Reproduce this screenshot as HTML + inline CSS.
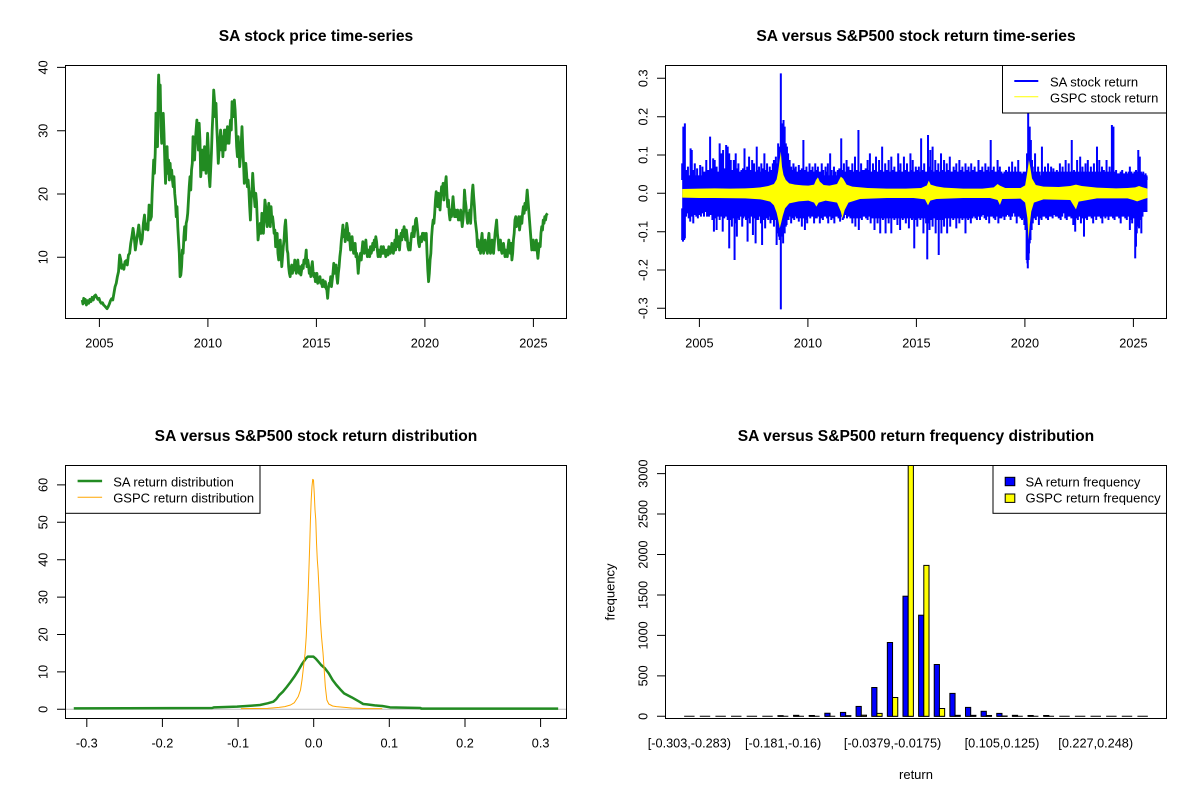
<!DOCTYPE html>
<html><head><meta charset="utf-8"><style>
html,body{margin:0;padding:0;background:#fff;}
svg{display:block;font-family:"Liberation Sans",Arial,sans-serif;}
.t{font-weight:bold;font-size:15.6px;text-anchor:middle;}
.n{font-size:12.7px;text-anchor:middle;}
.l{font-size:13px;}
.ax{stroke:#000;stroke-width:1;fill:none;}
</style></head><body>
<svg width="1200" height="800" viewBox="0 0 1200 800" xmlns="http://www.w3.org/2000/svg">
<rect x="0" y="0" width="1200" height="800" fill="#fff"/>

<!-- ================= TOP LEFT ================= -->
<text class="t" x="316" y="41">SA stock price time-series</text>
<g transform="matrix(0.3823 0 0 0.33333 0 20)">
<polyline fill="none" stroke="#228B22" stroke-width="2.8" vector-effect="non-scaling-stroke" stroke-linejoin="round" points="215,840 217,852 219,835 221,848 223,838 226,855 229,842 232,850 235,838 238,845 241,832 244,840 247,828 250,825 253,832 256,838 259,835 262,845 265,850 268,848 271,855 274,858 277,862 280,866 283,860 286,852 289,842 292,836 295,840 298,820 301,800 304,790 307,770 310,755 313,705 316,720 318,745 321,735 324,748 327,725 330,722 333,735 336,705 339,700 342,670 345,650 348,625 351,650 354,690 357,665 360,640 363,615 366,648 369,672 372,658 375,610 378,585 381,628 384,612 387,630 390,555 393,600 396,590 398,520 400,470 402,420 404,460 406,400 408,280 410,320 412,380 414,200 415,165 417,230 419,195 421,320 423,370 425,310 427,280 429,340 431,420 433,490 435,430 437,380 439,460 441,420 443,480 445,430 447,470 449,450 451,480 453,500 455,470 457,520 459,545 461,590 463,560 465,620 467,660 469,700 471,770 473,765 475,740 477,690 479,700 481,650 483,620 485,660 487,610 489,600 491,580 493,540 495,500 497,470 499,510 501,450 503,430 505,350 507,390 509,420 511,360 513,330 515,300 517,350 519,390 521,310 523,360 525,470 527,440 529,390 531,420 533,450 535,380 537,410 539,460 541,400 543,340 545,390 547,470 549,500 551,450 553,400 555,330 557,280 559,210 561,240 563,290 565,250 567,320 569,370 571,430 573,390 575,360 577,330 579,390 581,350 583,410 585,360 587,330 589,390 591,330 593,370 595,320 597,350 599,370 601,330 603,300 605,330 607,245 609,260 611,290 613,240 615,270 617,320 619,380 621,410 623,350 625,390 627,440 629,410 631,370 633,320 635,380 637,430 639,490 641,470 643,430 645,460 647,500 649,480 651,510 653,560 655,600 657,540 659,510 661,460 663,500 665,530 667,560 669,520 671,545 673,600 675,660 677,640 679,620 681,610 683,640 685,580 687,620 689,640 691,590 693,540 695,560 697,600 699,620 701,580 703,550 705,600 707,620 709,560 711,600 713,590 715,610 717,640 719,630 721,680 723,650 725,640 727,700 729,720 731,690 733,660 735,700 737,740 739,710 741,680 743,660 745,620 747,600 749,640 751,690 753,700 755,740 757,760 759,770 761,745 763,735 765,760 767,740 769,750 771,720 773,745 775,760 777,735 779,720 781,750 783,760 785,740 787,765 789,750 791,735 793,745 795,720 797,730 799,715 801,690 803,740 805,720 807,735 809,760 811,745 813,770 815,740 817,725 819,755 821,770 823,760 825,785 827,770 829,760 831,790 833,775 835,785 837,770 839,790 841,785 843,800 845,780 847,790 849,800 851,785 853,805 855,810 857,835 859,805 861,790 863,795 865,770 867,800 869,780 871,760 873,730 875,760 877,745 879,735 881,770 883,790 885,760 887,740 889,710 891,690 893,660 895,640 897,615 899,650 901,630 903,665 905,640 907,610 909,625 911,660 913,640 915,660 917,690 919,670 921,650 923,680 925,700 927,690 929,670 931,710 933,700 935,725 937,760 939,730 941,710 943,700 945,720 947,690 949,665 951,690 953,700 955,680 957,660 959,690 961,710 963,690 965,700 967,710 969,680 971,700 973,690 975,670 977,690 979,660 981,680 983,650 985,665 987,690 989,710 991,690 993,700 995,710 997,680 999,690 1001,700 1003,680 1005,700 1007,690 1009,710 1011,700 1013,690 1015,705 1017,680 1019,690 1021,700 1023,690 1025,670 1027,690 1029,700 1031,680 1033,660 1035,690 1037,630 1039,660 1041,680 1043,650 1045,690 1047,660 1049,640 1051,660 1053,630 1055,650 1057,620 1059,640 1061,660 1063,630 1065,650 1067,680 1069,690 1071,670 1073,690 1075,660 1077,640 1079,650 1081,620 1083,650 1085,630 1087,600 1089,595 1091,615 1093,640 1095,670 1097,680 1099,660 1101,650 1103,665 1105,640 1107,650 1109,640 1111,660 1113,650 1115,640 1117,700 1119,750 1121,785 1123,760 1125,720 1127,700 1129,650 1131,620 1133,600 1135,610 1137,580 1139,540 1141,515 1143,540 1145,560 1147,520 1149,540 1151,570 1153,530 1155,500 1157,520 1159,490 1161,540 1163,510 1165,490 1167,470 1169,520 1171,560 1173,540 1175,580 1177,600 1179,570 1181,590 1183,560 1185,530 1187,560 1189,590 1191,570 1193,590 1195,580 1197,570 1199,600 1201,580 1203,600 1205,570 1207,590 1209,620 1211,600 1213,570 1215,510 1217,540 1219,560 1221,590 1223,610 1225,580 1227,600 1229,570 1231,610 1233,560 1235,520 1237,495 1239,530 1241,560 1243,600 1245,620 1247,640 1249,680 1251,660 1253,690 1255,670 1257,700 1259,660 1261,640 1263,680 1265,700 1267,690 1269,660 1271,690 1273,670 1275,700 1277,660 1279,640 1281,680 1283,700 1285,690 1287,660 1289,690 1291,700 1293,670 1295,640 1297,620 1299,600 1301,640 1303,660 1305,690 1307,680 1309,660 1311,690 1313,700 1315,680 1317,670 1319,690 1321,710 1323,690 1325,700 1327,710 1329,680 1331,660 1333,690 1335,700 1337,670 1339,720 1341,700 1343,660 1345,640 1347,600 1349,590 1351,620 1353,600 1355,610 1357,590 1359,630 1361,610 1363,590 1365,610 1367,580 1369,560 1371,580 1373,550 1375,570 1377,540 1379,510 1381,540 1383,570 1385,600 1387,630 1389,660 1391,690 1393,680 1395,660 1397,690 1399,670 1401,690 1403,660 1405,690 1407,715 1409,690 1411,670 1413,680 1415,640 1417,620 1419,630 1421,600 1423,610 1425,590 1427,600 1429,585 1432,580"/>
</g>
<rect class="ax" x="65.5" y="65.5" width="501" height="253"/>
<path class="ax" d="M99.4 318.5V327M207.9 318.5V327M316.4 318.5V327M424.9 318.5V327M533.4 318.5V327M57 257.2H65.5M57 194H65.5M57 130.7H65.5M57 67.4H65.5"/>
<text class="n" x="99.4" y="347.7">2005</text>
<text class="n" x="207.9" y="347.7">2010</text>
<text class="n" x="316.4" y="347.7">2015</text>
<text class="n" x="424.9" y="347.7">2020</text>
<text class="n" x="533.4" y="347.7">2025</text>
<text class="n" transform="translate(47.5 257.2) rotate(-90)">10</text>
<text class="n" transform="translate(47.5 194) rotate(-90)">20</text>
<text class="n" transform="translate(47.5 130.7) rotate(-90)">30</text>
<text class="n" transform="translate(47.5 67.4) rotate(-90)">40</text>

<!-- ================= TOP RIGHT ================= -->
<text class="t" x="916" y="41">SA versus S&amp;P500 stock return time-series</text>
<g transform="matrix(0.3823 0 0 0.33333 600 20)">
<rect x="215" y="466" width="1217" height="110" fill="#0000FF"/>
<path fill="none" stroke="#0000FF" stroke-width="2" vector-effect="non-scaling-stroke" d="M215 480V430M218 480V320M222 480V310M226 480V450M230 480V440M237 480V385M240 480V390M244 480V450M248 480V430M254 480V445M262 480V435M268 480V440M273 480V455M278 480V420M283 480V450M288 480V350M292 480V445M296 480V415M300 480V420M305 480V440M309 480V455M313 480V370M318 480V400M322 480V390M326 480V445M330 480V375M334 480V380M338 480V400M342 480V420M346 480V450M350 480V420M355 480V400M358 480V445M362 480V430M366 480V455M370 480V450M374 480V445M378 480V385M381 480V450M385 480V440M390 480V410M394 480V450M398 480V420M403 480V430M406 480V455M410 480V380M413 480V450M416 480V440M419 480V455M422 480V430M426 480V445M430 480V400M434 480V450M437 480V430M441 480V455M444 480V440M448 480V450M452 480V430M455 480V420M458 480V440M460 480V410M463 480V430M466 480V370M468 480V400M470 480V380M473 480V160M476 480V310M478 480V340M480 480V300M483 480V320M486 480V370M489 480V380M492 480V400M494 480V430M496 480V420M498 480V445M500 480V440M503 480V450M506 480V430M509 480V445M512 480V440M516 480V455M520 480V435M524 480V450M528 480V445M532 480V360M536 480V450M540 480V440M544 480V455M548 480V430M552 480V450M556 480V440M560 480V455M563 480V430M566 480V450M570 480V440M575 480V455M580 480V430M584 480V450M590 480V440M593 480V455M596 480V430M602 480V400M606 480V450M612 480V440M616 480V455M622 480V450M626 480V445M631 480V355M634 480V450M638 480V430M642 480V455M645 480V420M650 480V440M655 480V450M660 480V430M664 480V455M667 480V410M672 480V450M676 480V330M680 480V455M683 480V430M687 480V450M690 480V450M695 480V445M700 480V420M703 480V450M706 480V400M710 480V455M714 480V430M718 480V450M722 480V410M726 480V455M730 480V420M734 480V450M738 480V380M742 480V455M746 480V430M750 480V450M755 480V420M758 480V455M762 480V410M766 480V450M770 480V440M775 480V455M780 480V400M783 480V450M786 480V430M790 480V455M795 480V410M799 480V450M803 480V430M808 480V455M812 480V400M815 480V450M818 480V420M822 480V455M826 480V440M830 480V450M834 480V440M837 480V455M840 480V355M844 480V450M848 480V430M853 480V455M858 480V345M861 480V440M864 480V390M867 480V450M870 480V380M874 480V455M877 480V420M881 480V450M885 480V430M889 480V455M892 480V400M896 480V450M900 480V420M903 480V455M907 480V430M911 480V450M915 480V410M920 480V455M925 480V440M928 480V450M932 480V430M936 480V455M940 480V420M944 480V450M948 480V440M952 480V455M956 480V430M960 480V450M964 480V440M968 480V455M971 480V430M975 480V450M980 480V440M985 480V455M990 480V420M995 480V450M1000 480V440M1004 480V455M1008 480V430M1012 480V450M1016 480V440M1019 480V455M1022 480V360M1026 480V450M1030 480V440M1035 480V455M1040 480V420M1043 480V450M1046 480V440M1050 480V455M1054 480V460M1058 480V455M1062 480V450M1066 480V455M1070 480V440M1074 480V455M1078 480V425M1082 480V455M1086 480V440M1090 480V455M1094 480V420M1097 480V455M1100 480V455M1104 480V460M1108 480V455M1111 480V455M1114 480V455M1117 480V400M1120 480V280M1122 480V330M1124 480V320M1127 480V360M1130 480V420M1132 480V440M1135 480V455M1138 480V400M1142 480V455M1146 480V440M1150 480V455M1156 480V380M1160 480V455M1164 480V440M1168 480V455M1172 480V430M1176 480V455M1180 480V440M1183 480V455M1186 480V445M1190 480V455M1195 480V450M1199 480V455M1203 480V430M1207 480V455M1210 480V440M1214 480V455M1218 480V420M1222 480V455M1226 480V430M1230 480V455M1234 480V360M1237 480V455M1240 480V450M1244 480V455M1248 480V420M1252 480V455M1256 480V410M1259 480V455M1262 480V440M1266 480V455M1270 480V430M1273 480V455M1276 480V420M1280 480V455M1284 480V440M1288 480V455M1292 480V430M1296 480V455M1300 480V380M1303 480V455M1306 480V420M1310 480V455M1313 480V440M1318 480V450M1321 480V455M1325 480V420M1329 480V455M1333 480V440M1336 480V455M1339 480V315M1341 480V330M1343 480V320M1346 480V455M1350 480V450M1354 480V460M1358 480V460M1362 480V455M1366 480V450M1369 480V460M1372 480V460M1376 480V455M1380 480V460M1383 480V455M1386 480V440M1390 480V455M1394 480V460M1398 480V455M1402 480V450M1405 480V455M1408 480V390M1410 480V430M1412 480V410M1415 480V455M1418 480V460M1421 480V455M1424 480V465M1427 480V460M1430 480V470
M215 565V660M217 565V665M220 565V660M222 565V655M225 565V590M228 565V580M232 565V595M236 565V605M240 565V590M244 565V610M248 565V585M252 565V590M256 565V595M260 565V585M264 565V590M268 565V580M272 565V590M276 565V575M280 565V590M285 565V590M290 565V585M294 565V600M298 565V635M302 565V595M305 565V630M309 565V590M313 565V600M317 565V590M321 565V635M325 565V595M330 565V590M334 565V600M338 565V685M341 565V600M345 565V620M349 565V595M352 565V720M355 565V610M358 565V650M361 565V595M364 565V600M368 565V590M372 565V620M375 565V595M378 565V590M382 565V600M386 565V665M389 565V595M392 565V610M396 565V590M400 565V645M403 565V595M407 565V670M410 565V600M414 565V600M418 565V590M421 565V610M424 565V675M428 565V600M432 565V625M436 565V595M440 565V600M443 565V590M446 565V610M450 565V600M455 565V620M458 565V600M462 565V675M464 565V620M466 565V640M468 565V650M470 565V660M473 565V868M476 565V650M478 565V640M479 565V670M481 565V630M483 565V640M486 565V620M488 565V615M490 565V600M493 565V600M496 565V590M500 565V610M504 565V595M508 565V600M511 565V590M515 565V595M518 565V590M520 565V605M524 565V595M528 565V620M532 565V595M536 565V630M539 565V600M542 565V610M546 565V590M550 565V595M555 565V590M560 565V610M563 565V595M567 565V595M571 565V590M575 565V610M579 565V595M583 565V600M587 565V590M590 565V590M594 565V595M597 565V610M601 565V590M605 565V600M609 565V595M613 565V610M616 565V590M620 565V590M624 565V595M628 565V605M632 565V590M635 565V600M638 565V595M642 565V585M646 565V595M650 565V590M655 565V595M660 565V610M664 565V595M668 565V620M672 565V595M677 565V630M681 565V595M685 565V600M688 565V590M692 565V590M696 565V595M700 565V600M704 565V590M708 565V610M713 565V595M718 565V630M722 565V595M726 565V610M729 565V595M733 565V640M736 565V595M740 565V600M743 565V595M747 565V640M751 565V595M755 565V610M758 565V595M762 565V640M766 565V595M770 565V600M774 565V595M778 565V615M781 565V595M785 565V630M788 565V595M792 565V600M796 565V595M800 565V610M804 565V595M808 565V625M812 565V595M816 565V600M819 565V595M822 565V685M826 565V600M830 565V620M834 565V595M838 565V600M842 565V595M846 565V640M850 565V595M853 565V610M856 565V718M859 565V610M862 565V630M866 565V600M870 565V620M874 565V595M878 565V640M882 565V600M886 565V705M889 565V600M893 565V640M896 565V600M900 565V620M904 565V595M908 565V640M912 565V595M916 565V620M920 565V595M924 565V600M928 565V595M932 565V625M936 565V595M940 565V610M944 565V595M948 565V600M952 565V595M956 565V640M960 565V595M963 565V600M967 565V595M970 565V610M974 565V595M978 565V590M982 565V595M986 565V600M990 565V590M994 565V600M998 565V590M1002 565V585M1006 565V595M1010 565V600M1014 565V590M1018 565V610M1022 565V590M1026 565V590M1030 565V595M1034 565V600M1038 565V590M1042 565V610M1046 565V595M1050 565V595M1054 565V590M1058 565V600M1062 565V590M1066 565V585M1070 565V590M1074 565V600M1078 565V590M1082 565V580M1086 565V590M1090 565V610M1093 565V590M1096 565V590M1100 565V595M1104 565V600M1107 565V595M1110 565V615M1113 565V630M1116 565V720M1118 565V730M1119 565V745M1121 565V720M1122 565V700M1124 565V670M1126 565V660M1129 565V630M1132 565V610M1136 565V595M1140 565V600M1144 565V590M1148 565V615M1151 565V595M1155 565V600M1159 565V590M1163 565V590M1167 565V595M1172 565V600M1176 565V590M1180 565V590M1184 565V595M1188 565V585M1192 565V590M1196 565V590M1200 565V595M1205 565V600M1209 565V590M1213 565V580M1217 565V595M1221 565V600M1225 565V590M1229 565V590M1233 565V595M1238 565V615M1240 565V600M1243 565V635M1246 565V595M1250 565V600M1254 565V590M1258 565V610M1262 565V595M1266 565V650M1270 565V595M1274 565V600M1278 565V590M1282 565V590M1286 565V595M1290 565V610M1294 565V590M1298 565V600M1302 565V590M1306 565V590M1310 565V595M1314 565V610M1318 565V590M1322 565V595M1326 565V590M1330 565V600M1334 565V590M1338 565V590M1342 565V595M1346 565V600M1350 565V590M1354 565V590M1358 565V595M1362 565V610M1366 565V590M1370 565V590M1374 565V595M1378 565V600M1382 565V590M1386 565V630M1389 565V600M1392 565V610M1396 565V595M1400 565V715M1402 565V680M1404 565V640M1407 565V620M1410 565V625M1413 565V600M1416 565V640M1419 565V590M1422 565V570M1425 565V575M1428 565V565"/>
<polygon fill="#FFFF00" points="215,507 260,506 300,505 340,506 380,505 400,504 420,502 440,498 455,492 462,478 466,455 470,420 473,395 476,440 480,465 486,480 495,490 510,494 530,496 545,497 560,494 565,480 570,472 575,485 585,495 600,497 620,492 630,470 636,476 645,494 660,500 700,504 750,506 800,506 840,504 855,496 860,482 865,494 880,499 900,503 950,506 1000,506 1030,502 1040,492 1046,497 1060,504 1100,504 1112,496 1118,455 1122,420 1126,445 1130,475 1140,495 1160,500 1200,501 1230,498 1245,494 1260,498 1300,503 1350,505 1380,504 1400,502 1410,498 1420,502 1432,506 1432,534 1420,538 1405,544 1395,540 1380,535 1300,535 1252,545 1245,568 1230,540 1160,538 1135,548 1128,575 1124,615 1121,660 1118,595 1112,548 1100,536 1052,537 1046,555 1040,540 1020,534 950,534 880,537 864,542 858,556 850,538 820,534 750,534 680,537 650,548 640,570 634,595 630,575 620,548 590,542 572,548 566,560 560,548 545,542 520,544 495,550 484,565 478,588 474,608 470,625 466,598 462,578 455,556 445,545 420,538 380,535 300,534 260,534 215,533"/>
</g>
<rect class="ax" x="665.5" y="65.5" width="501" height="253"/>
<path class="ax" d="M699.4 318.5V327M807.9 318.5V327M916.4 318.5V327M1024.9 318.5V327M1133.4 318.5V327M657 78.3H665.5M657 116.7H665.5M657 155H665.5M657 193.3H665.5M657 231.7H665.5M657 270H665.5M657 308.3H665.5"/>
<text class="n" x="699.4" y="347.7">2005</text>
<text class="n" x="807.9" y="347.7">2010</text>
<text class="n" x="916.4" y="347.7">2015</text>
<text class="n" x="1024.9" y="347.7">2020</text>
<text class="n" x="1133.4" y="347.7">2025</text>
<text class="n" transform="translate(647.5 78.3) rotate(-90)">0.3</text>
<text class="n" transform="translate(647.5 116.7) rotate(-90)">0.2</text>
<text class="n" transform="translate(647.5 155) rotate(-90)">0.1</text>
<text class="n" transform="translate(647.5 193.3) rotate(-90)">0.0</text>
<text class="n" transform="translate(647.5 231.7) rotate(-90)">-0.1</text>
<text class="n" transform="translate(647.5 270) rotate(-90)">-0.2</text>
<text class="n" transform="translate(647.5 308.3) rotate(-90)">-0.3</text>
<rect x="1002.5" y="65.5" width="164" height="47.5" fill="#fff" stroke="#000" stroke-width="1"/>
<line x1="1014.3" y1="81" x2="1038.3" y2="81" stroke="#0000FF" stroke-width="2"/>
<line x1="1014.3" y1="96.7" x2="1038.3" y2="96.7" stroke="#FFFF00" stroke-width="1"/>
<text class="l" x="1050" y="86.7">SA stock return</text>
<text class="l" x="1050" y="102.3">GSPC stock return</text>

<!-- ================= BOTTOM LEFT ================= -->
<text class="t" x="316" y="441">SA versus S&amp;P500 stock return distribution</text>
<line x1="65.5" y1="709.3" x2="566.5" y2="709.3" stroke="#BEBEBE" stroke-width="1"/>
<g transform="matrix(0.3823 0 0 0.33333 0 420)">
<polyline fill="none" stroke="#228B22" stroke-width="2.5" vector-effect="non-scaling-stroke" stroke-linejoin="round" points="193,865 555,864 560,862 620,860 660,857 680,855 700,850 715,845 722,838 730,826 740,815 750,801 760,786 770,770 780,752 790,732 800,716 805,710 820,710 826,716 832,724 840,735 850,745 860,760 870,780 880,795 890,808 900,820 920,832 940,845 950,852 960,853 980,856 1000,858 1020,862 1100,864 1102,866 1460,866"/>
<polyline fill="none" stroke="#FFA500" stroke-width="1" vector-effect="non-scaling-stroke" stroke-linejoin="round" points="630,866 700,865 730,862 745,860 760,855 770,848 780,830 786,810 790,780 794,740 798,700 801,650 803,600 806,520 808,450 810,380 812,300 814,240 816,200 818,178 820,180 822,220 824,270 826,300 828,370 830,420 832,450 835,520 838,600 841,650 845,700 848,750 851,800 855,840 860,852 870,858 880,860 920,864 960,866 1000,866"/>
</g>
<rect class="ax" x="65.5" y="465.5" width="501" height="253"/>
<path class="ax" d="M86.8 718.5V727M162.4 718.5V727M238.1 718.5V727M313.7 718.5V727M389.3 718.5V727M465 718.5V727M540.6 718.5V727M57 709.3H65.5M57 671.9H65.5M57 634.5H65.5M57 597.1H65.5M57 559.7H65.5M57 522.3H65.5M57 484.9H65.5"/>
<text class="n" x="86.8" y="747.7">-0.3</text>
<text class="n" x="162.4" y="747.7">-0.2</text>
<text class="n" x="238.1" y="747.7">-0.1</text>
<text class="n" x="313.7" y="747.7">0.0</text>
<text class="n" x="389.3" y="747.7">0.1</text>
<text class="n" x="465" y="747.7">0.2</text>
<text class="n" x="540.6" y="747.7">0.3</text>
<text class="n" transform="translate(47.5 709.3) rotate(-90)">0</text>
<text class="n" transform="translate(47.5 671.9) rotate(-90)">10</text>
<text class="n" transform="translate(47.5 634.5) rotate(-90)">20</text>
<text class="n" transform="translate(47.5 597.1) rotate(-90)">30</text>
<text class="n" transform="translate(47.5 559.7) rotate(-90)">40</text>
<text class="n" transform="translate(47.5 522.3) rotate(-90)">50</text>
<text class="n" transform="translate(47.5 484.9) rotate(-90)">60</text>
<rect x="65.5" y="465.5" width="194.5" height="47.8" fill="#fff" stroke="#000" stroke-width="1"/>
<line x1="77.6" y1="481" x2="102.1" y2="481" stroke="#228B22" stroke-width="2.5"/>
<line x1="77.6" y1="497.3" x2="102.1" y2="497.3" stroke="#FFA500" stroke-width="1"/>
<text class="l" x="113.2" y="486.7">SA return distribution</text>
<text class="l" x="113.2" y="502.3">GSPC return distribution</text>

<!-- ================= BOTTOM RIGHT ================= -->
<text class="t" x="916" y="441">SA versus S&amp;P500 return frequency distribution</text>
<path stroke="#000" stroke-width="1" fill="none" d="M684.15 716.3h10.42M699.78 716.3h10.42M715.41 716.3h10.42M731.04 716.3h10.42M746.67 716.3h10.42M762.3 716.3h10.42M777.93 716.3h10.42M793.56 716.3h10.42M809.19 716.3h10.42M824.82 716.3h10.42M840.45 716.3h10.42M856.08 716.3h10.42M871.71 716.3h10.42M887.34 716.3h10.42M902.97 716.3h10.42M918.6 716.3h10.42M934.23 716.3h10.42M949.86 716.3h10.42M965.49 716.3h10.42M981.12 716.3h10.42M996.75 716.3h10.42M1012.38 716.3h10.42M1028.01 716.3h10.42M1043.64 716.3h10.42M1059.27 716.3h10.42M1074.9 716.3h10.42M1090.53 716.3h10.42M1106.16 716.3h10.42M1121.79 716.3h10.42M1137.42 716.3h10.42"/>
<g stroke="#000" stroke-width="1">
<g fill="#0000FF">
<rect x="777.93" y="715.65" width="5.21" height="0.65"/>
<rect x="793.56" y="715.33" width="5.21" height="0.97"/>
<rect x="809.19" y="715.49" width="5.21" height="0.81"/>
<rect x="824.82" y="713.23" width="5.21" height="3.07"/>
<rect x="840.45" y="712.42" width="5.21" height="3.88"/>
<rect x="856.08" y="706.43" width="5.21" height="9.87"/>
<rect x="871.71" y="687.5" width="5.21" height="28.8"/>
<rect x="887.34" y="642.5" width="5.21" height="73.8"/>
<rect x="902.97" y="596.2" width="5.21" height="120.1"/>
<rect x="918.6" y="615.2" width="5.21" height="101.1"/>
<rect x="934.23" y="664.5" width="5.21" height="51.8"/>
<rect x="949.86" y="693.4" width="5.21" height="22.9"/>
<rect x="965.49" y="707.4" width="5.21" height="8.9"/>
<rect x="981.12" y="711.3" width="5.21" height="5.0"/>
<rect x="996.75" y="713.4" width="5.21" height="2.9"/>
<rect x="1012.38" y="715.33" width="5.21" height="0.97"/>
<rect x="1028.01" y="715.49" width="5.21" height="0.81"/>
<rect x="1043.64" y="715.49" width="5.21" height="0.81"/>
</g>
<g fill="#FFFF00">
<rect x="845.66" y="715.65" width="5.21" height="0.65"/>
<rect x="861.29" y="715.17" width="5.21" height="1.13"/>
<rect x="876.92" y="713.4" width="5.21" height="2.9"/>
<rect x="892.55" y="697.5" width="5.21" height="18.8"/>
<rect x="908.18" y="465.5" width="5.21" height="250.8"/>
<rect x="923.81" y="565.4" width="5.21" height="150.9"/>
<rect x="939.44" y="708.5" width="5.21" height="7.8"/>
<rect x="955.07" y="715.33" width="5.21" height="0.97"/>
<rect x="970.7" y="715.33" width="5.21" height="0.97"/>
<rect x="986.33" y="715.49" width="5.21" height="0.81"/>
<rect x="1001.96" y="716" width="5.21" height="0.3"/>
</g>
</g>
<rect class="ax" x="665.5" y="465.5" width="501" height="253"/>
<path class="ax" d="M657 716.3H665.5M657 675.85H665.5M657 635.4H665.5M657 594.95H665.5M657 554.5H665.5M657 514.05H665.5M657 473.6H665.5"/>
<text class="n" transform="translate(647.5 716.3) rotate(-90)">0</text>
<text class="n" transform="translate(647.5 675.85) rotate(-90)">500</text>
<text class="n" transform="translate(647.5 635.4) rotate(-90)">1000</text>
<text class="n" transform="translate(647.5 594.95) rotate(-90)">1500</text>
<text class="n" transform="translate(647.5 554.5) rotate(-90)">2000</text>
<text class="n" transform="translate(647.5 514.05) rotate(-90)">2500</text>
<text class="n" transform="translate(647.5 473.6) rotate(-90)">3000</text>
<text class="n" x="689.4" y="747.7">[-0.303,-0.283)</text>
<text class="n" x="783.1" y="747.7">[-0.181,-0.16)</text>
<text class="n" x="892.6" y="747.7">[-0.0379,-0.0175)</text>
<text class="n" x="1002" y="747.7">[0.105,0.125)</text>
<text class="n" x="1095.7" y="747.7">[0.227,0.248)</text>
<text class="l" x="916" y="779" text-anchor="middle">return</text>
<text class="l" text-anchor="middle" transform="translate(614.5 592) rotate(-90)">frequency</text>
<rect x="993" y="465.5" width="173.5" height="47.8" fill="#fff" stroke="#000" stroke-width="1"/>
<rect x="1005.2" y="477.3" width="9.6" height="8.4" fill="#0000FF" stroke="#000" stroke-width="1"/>
<rect x="1005.2" y="494" width="9.6" height="8.4" fill="#FFFF00" stroke="#000" stroke-width="1"/>
<text class="l" x="1025.5" y="486.7">SA return frequency</text>
<text class="l" x="1025.5" y="502.3">GSPC return frequency</text>
</svg>
</body></html>
